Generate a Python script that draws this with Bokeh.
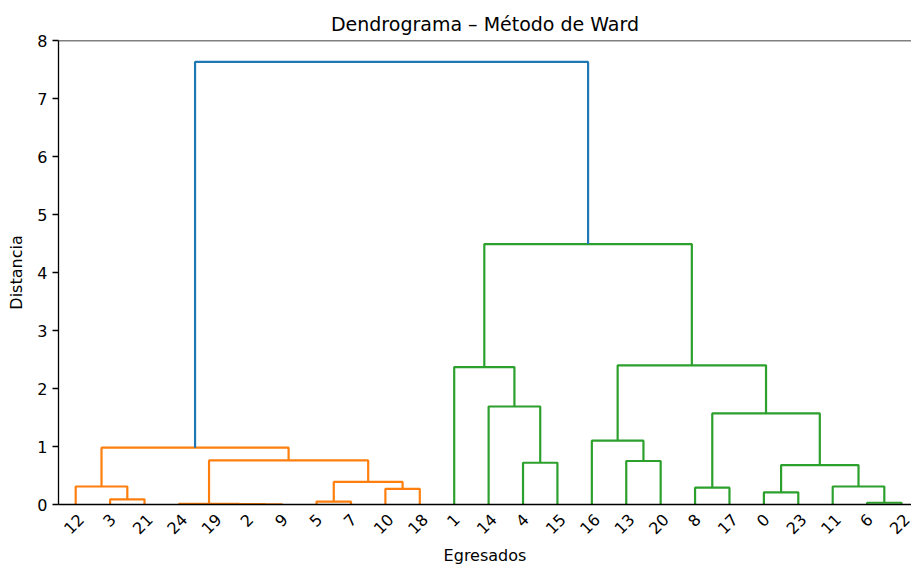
import math
from bokeh.plotting import figure
from bokeh.models import Range1d, FixedTicker, Span, ColumnDataSource
from bokeh.embed import file_html
from bokeh.resources import INLINE

# ---- data: Ward linkage (scipy style: ids 0..24 are leaves, 25+ are merges) ----
n_leaves = 25
link_left = [2, 19, 24, 6, 5, 3, 0, 10, 8, 12, 11, 29, 31, 4, 13, 27, 34, 16, 33, 14, 1, 42, 45, 41]
link_right = [9, 25, 26, 22, 7, 21, 23, 18, 17, 30, 28, 32, 35, 15, 20, 36, 40, 39, 37, 38, 44, 43, 46, 47]
link_height = [0.003, 0.006, 0.010, 0.03, 0.05, 0.09, 0.21, 0.27, 0.29, 0.31, 0.31, 0.39,
               0.68, 0.72, 0.75, 0.76, 0.98, 1.10, 1.57, 1.69, 2.37, 2.40, 4.49, 7.63]
y_ticks = [0, 1, 2, 3, 4, 5, 6, 7, 8]
palette = ["#ff7f0e", "#2ca02c"]
above_color = "#1f77b4"

# ---- dendrogram layout (like scipy.cluster.hierarchy.dendrogram) ----
children = {n_leaves + i: (link_left[i], link_right[i]) for i in range(len(link_left))}
heights = {n_leaves + i: link_height[i] for i in range(len(link_height))}
root = n_leaves + len(link_left) - 1
threshold = 0.7 * max(link_height)

leaf_order = []
def order(node):
    if node < n_leaves:
        leaf_order.append(node)
    else:
        order(children[node][0])
        order(children[node][1])
order(root)

pos = {}
for i, leaf in enumerate(leaf_order):
    pos[leaf] = 10 * i + 5

def xpos(node):
    if node not in pos:
        l, r = children[node]
        pos[node] = (xpos(l) + xpos(r)) / 2
    return pos[node]

def h(node):
    return heights.get(node, 0.0)

colors = {}
color_idx = [0]
def assign(node, col):
    if node < n_leaves:
        return
    if col is None and heights[node] < threshold:
        col = palette[color_idx[0] % len(palette)]
        color_idx[0] += 1
    colors[node] = col if col is not None else above_color
    assign(children[node][0], col)
    assign(children[node][1], col)
assign(root, None)

xs, ys, cs = [], [], []
for node in sorted(children):
    l, r = children[node]
    xl, xr = xpos(l), xpos(r)
    xs.append([xl, xl, xr, xr])
    ys.append([h(l), heights[node], heights[node], h(r)])
    cs.append(colors[node])

src = ColumnDataSource(data=dict(xs=xs, ys=ys, color=cs))

p = figure(width=911, height=568, output_backend="svg", toolbar_location=None,
           x_range=Range1d(0, 247.9), y_range=Range1d(0, 8),
           title="Dendrograma \u2013 M\u00e9todo de Ward",
           min_border_left=58, min_border_right=0, min_border_top=40, min_border_bottom=64)
p.multi_line(xs="xs", ys="ys", line_color="color", line_width=2.2, source=src)

p.title.align = "center"
p.title.text_font = "DejaVu Sans"
p.title.text_font_size = "19px"
p.title.text_font_style = "normal"
p.title.text_color = "#000000"
p.title.standoff = 12

p.xgrid.visible = False
p.ygrid.visible = False
p.outline_line_color = None
p.background_fill_color = "white"
p.border_fill_color = "white"
p.add_layout(Span(location=8, dimension="width", line_color="black", line_width=1.3))

# rotated labels: nudge each label so its rotated box is centred on its leaf (ticks are invisible)
label_shift = {1: 0.75, 2: 1.5}
tick_pos = [10 * i + 5 + label_shift[len(str(leaf))] for i, leaf in enumerate(leaf_order)]
p.xaxis.ticker = FixedTicker(ticks=tick_pos)
p.xaxis.major_label_overrides = {t: str(leaf) for t, leaf in zip(tick_pos, leaf_order)}
p.xaxis.major_label_orientation = math.pi / 4
p.xaxis.major_tick_out = 0
p.xaxis.major_tick_in = 0
p.xaxis.minor_tick_out = 0
p.xaxis.minor_tick_in = 0
p.xaxis.axis_label = "Egresados"
p.xaxis.major_label_standoff = 12
p.xaxis.axis_label_standoff = 4

p.yaxis.ticker = FixedTicker(ticks=y_ticks)
p.yaxis.major_tick_out = 6
p.yaxis.major_tick_in = 0
p.yaxis.minor_tick_out = 0
p.yaxis.minor_tick_in = 0
p.yaxis.axis_label = "Distancia"
p.yaxis.axis_label_standoff = 8
p.yaxis.major_label_standoff = 5

for ax in (p.xaxis, p.yaxis):
    ax.axis_line_color = "black"
    ax.axis_line_width = 1.3
    ax.major_tick_line_color = "black"
    ax.major_tick_line_width = 1.3
    ax.major_label_text_font = "DejaVu Sans"
    ax.major_label_text_font_size = "16px"
    ax.major_label_text_color = "#000000"
    ax.axis_label_text_font = "DejaVu Sans"
    ax.axis_label_text_font_size = "16px"
    ax.axis_label_text_font_style = "normal"
    ax.axis_label_text_color = "#000000"

open("out.html", "w").write(file_html(p, INLINE))
